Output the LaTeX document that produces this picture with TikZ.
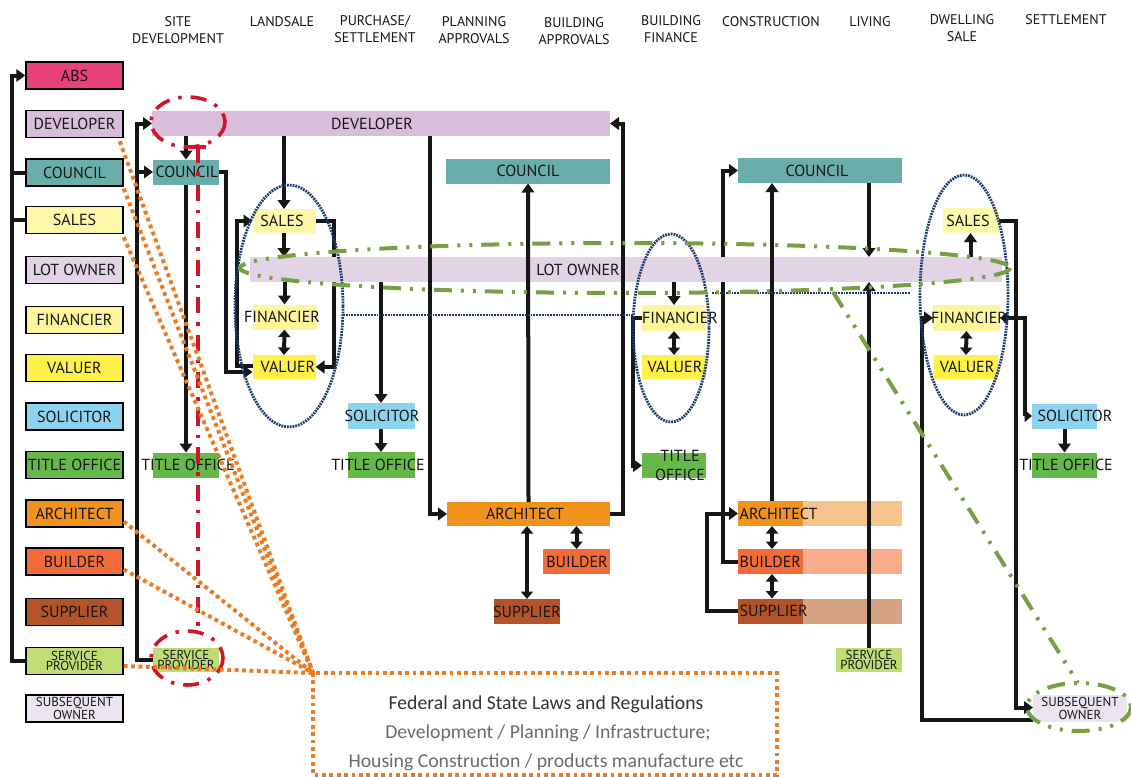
\documentclass[tikz,border=0pt]{standalone}
\usepackage{fontspec}
\setmainfont{PT Sans}
\newfontfamily\lawfont{Carlito}
\usetikzlibrary{arrows.meta,calc}
\pgfdeclarelayer{back}
\pgfsetlayers{back,main}

\definecolor{cAbs}{HTML}{E8407A}
\definecolor{cDev}{HTML}{D9BEDC}
\definecolor{cCouncil}{HTML}{6AAEAB}
\definecolor{cSales}{HTML}{FFF7AA}
\definecolor{cLot}{HTML}{E3D3E6}
\definecolor{cFin}{HTML}{FFF59A}
\definecolor{cVal}{HTML}{FFF04A}
\definecolor{cSol}{HTML}{8DD3F0}
\definecolor{cTitle}{HTML}{66B84A}
\definecolor{cArch}{HTML}{F0921C}
\definecolor{cArchL}{HTML}{F6C48C}
\definecolor{cBuild}{HTML}{F26B38}
\definecolor{cBuildL}{HTML}{F8AC8A}
\definecolor{cSupp}{HTML}{B4532A}
\definecolor{cSuppL}{HTML}{D6A284}
\definecolor{cServ}{HTML}{BFDD72}
\definecolor{cSubs}{HTML}{ECE4F0}
\definecolor{cRing}{HTML}{1D3A6E}
\definecolor{cGreen}{HTML}{77A043}
\definecolor{cRed}{HTML}{D0142A}
\definecolor{cOrange}{HTML}{EB7A22}
\definecolor{cInk}{HTML}{161616}

\begin{document}
\begin{tikzpicture}[x=1pt,y=-1pt,
  txt/.style={font=\fontsize{16}{17}\selectfont, text=cInk, inner sep=0pt},
  small/.style={font=\fontsize{13}{10.8}\selectfont, align=center, text=cInk, inner sep=0pt},
  hd/.style={font=\fontsize{14}{17}\selectfont, align=center, text=cInk, inner sep=0pt},
  lg/.style={draw=black, line width=1.5pt, fill=#1, minimum width=97pt, minimum height=27pt,
             inner sep=0pt, font=\fontsize{16}{17}\selectfont, text=cInk},
  bar/.style={fill=#1, draw=none, inner sep=0pt, outer sep=0pt},
  link/.style={draw=cInk, line width=4pt},
  flow/.style={link, -{Triangle[length=9pt,width=12.5pt]}},
  both/.style={link, {Triangle[length=7.5pt,width=12pt]}-{Triangle[length=7.5pt,width=12pt]}},
  ring/.style={draw=cRing, line width=2.8pt, dash pattern=on 1.8pt off 1pt},
  greendd/.style={draw=cGreen, line width=4pt, dash pattern=on 18pt off 9pt on 3pt off 9pt on 3pt off 9pt},
  reddd/.style={draw=cRed, line width=3.6pt, dash pattern=on 16pt off 9pt on 3.5pt off 9pt},
  law/.style={draw=cOrange, line width=4pt, dash pattern=on 3.8pt off 3.6pt}
]
\useasboundingbox (0,0) rectangle (1131,776);

% ---------- column headings ----------
\node[hd] (hSite)  at (178,30.5) {SITE\\DEVELOPMENT};
\node[hd] (hLand)  at (282,22)   {LANDSALE};
\node[hd] (hPurch) at (375,29.5) {PURCHASE/\\SETTLEMENT};
\node[hd] (hPlan)  at (474,30)   {PLANNING\\APPROVALS};
\node[hd] (hBA)    at (574,31)   {BUILDING\\APPROVALS};
\node[hd] (hBF)    at (671,29)   {BUILDING\\FINANCE};
\node[hd] (hCon)   at (771,22)   {CONSTRUCTION};
\node[hd] (hLiv)   at (870,22)   {LIVING};
\node[hd] (hDS)    at (962,28.5) {DWELLING\\SALE};
\node[hd] (hSet)   at (1066,20)  {SETTLEMENT};

% ---------- legend of parties ----------
\node[lg=cAbs]     (lgAbs)     at (74.5,75.5)  {ABS};
\node[lg=cDev]     (lgDev)     at (74.5,124)   {DEVELOPER};
\node[lg=cCouncil] (lgCouncil) at (74.5,172.5) {COUNCIL};
\node[lg=cSales]   (lgSales)   at (74.5,220)   {SALES};
\node[lg=cLot]     (lgLot)     at (74.5,270)   {LOT OWNER};
\node[lg=cFin]     (lgFin)     at (74.5,320)   {FINANCIER};
\node[lg=cVal]     (lgVal)     at (74.5,368)   {VALUER};
\node[lg=cSol]     (lgSol)     at (74.5,416.5) {SOLICITOR};
\node[lg=cTitle]   (lgTitle)   at (74.5,465)   {TITLE OFFICE};
\node[lg=cArch]    (lgArch)    at (74.5,513.5) {ARCHITECT};
\node[lg=cBuild]   (lgBuild)   at (74.5,561.5) {BUILDER};
\node[lg=cSupp]    (lgSupp)    at (74.5,612)   {SUPPLIER};
\node[lg=cServ, font=\fontsize{13}{10.8}\selectfont, align=center] (lgServ) at (74.5,661) {SERVICE\\PROVIDER};
\node[lg=cSubs, font=\fontsize{13}{10.8}\selectfont, align=center] (lgSubs) at (74.5,708.5) {SUBSEQUENT\\OWNER};

% ---------- bars and boxes ----------
\node[bar=cDev, minimum width=458pt, minimum height=25pt] (devBar) at (381,123.5) {};
\node[txt] (tDev) at (372,124) {DEVELOPER};
\node[bar=cLot, minimum width=752pt, minimum height=25pt] (lotBar) at (626,269.5) {};
\node[txt] (tLot) at (578,270) {LOT OWNER};

% site development
\node[bar=cCouncil, minimum width=66pt, minimum height=25pt] (sdCouncil) at (186,172) {};
\node[txt] (tSdCouncil) at (187,172) {COUNCIL};
\node[bar=cTitle, minimum width=66pt, minimum height=25pt] (sdTitle) at (186,465) {};
\node[txt] (tSdTitle) at (188,465) {TITLE OFFICE};
\node[bar=cServ, minimum width=66pt, minimum height=24pt] (sdServ) at (186,660) {};
\node[small] (tSdServ) at (186,660) {SERVICE\\PROVIDER};

% landsale
\node[bar=cSales, minimum width=63pt, minimum height=24pt] (lsSales) at (284,221) {};
\node[txt] (tLsSales) at (282,221) {SALES};
\node[bar=cFin, minimum width=64pt, minimum height=25pt] (lsFin) at (284.5,317) {};
\node[txt] (tLsFin) at (282,317) {FINANCIER};
\node[bar=cVal, minimum width=63pt, minimum height=24pt] (lsVal) at (284,367) {};
\node[txt] (tLsVal) at (288,367) {VALUER};

% purchase / settlement
\node[bar=cSol, minimum width=67pt, minimum height=26pt] (psSol) at (381,416) {};
\node[txt] (tPsSol) at (382,416) {SOLICITOR};
\node[bar=cTitle, minimum width=67pt, minimum height=26pt] (psTitle) at (381,465) {};
\node[txt] (tPsTitle) at (378,465) {TITLE OFFICE};

% planning / building approvals
\node[bar=cCouncil, minimum width=164pt, minimum height=25pt] (baCouncil) at (528,171) {};
\node[txt] (tBaCouncil) at (528,171) {COUNCIL};
\node[bar=cArch, minimum width=163pt, minimum height=24pt] (baArch) at (528.5,514) {};
\node[txt] (tBaArch) at (525,514) {ARCHITECT};
\node[bar=cBuild, minimum width=67pt, minimum height=25pt] (baBuild) at (576.5,561.5) {};
\node[txt] (tBaBuild) at (577,561.5) {BUILDER};
\node[bar=cSupp, minimum width=66pt, minimum height=25pt] (baSupp) at (527,611.5) {};
\node[txt] (tBaSupp) at (527,611.5) {SUPPLIER};

% building finance
\node[bar=cFin, minimum width=64pt, minimum height=26pt] (bfFin) at (674,318) {};
\node[txt] (tBfFin) at (680,318) {FINANCIER};
\node[bar=cVal, minimum width=64pt, minimum height=24pt] (bfVal) at (674,367) {};
\node[txt] (tBfVal) at (675,367) {VALUER};
\node[bar=cTitle, minimum width=64pt, minimum height=25pt] (bfTitle) at (674,465.5) {};
\node[hd, font=\fontsize{16}{19}\selectfont] (tBfTitle) at (680,465) {TITLE\\OFFICE};

% construction
\foreach \nm/\yy/\dk/\lt/\word in {cnArch/513.5/cArch/cArchL/ARCHITECT,
                                    cnBuild/561.5/cBuild/cBuildL/BUILDER,
                                    cnSupp/611/cSupp/cSuppL/SUPPLIER}{
  \node[bar=\lt, minimum width=164pt, minimum height=25pt,
        path picture={\fill[\dk] (path picture bounding box.north west)
          rectangle ([xshift=65pt]path picture bounding box.south west);}] (\nm) at (820,\yy) {};
  \node[txt, anchor=west] (t\nm) at ([xshift=1.5pt]\nm.west) {\word};
}
\node[bar=cCouncil, minimum width=164pt, minimum height=25pt] (cnCouncil) at (820,170.5) {};
\node[txt] (tCnCouncil) at (817,170.5) {COUNCIL};

% living
\node[bar=cServ, minimum width=66pt, minimum height=24pt] (lvServ) at (869,660) {};
\node[small] (tLvServ) at (869,660) {SERVICE\\PROVIDER};

% dwelling sale
\node[bar=cSales, minimum width=56pt, minimum height=25pt] (dsSales) at (970.5,220.5) {};
\node[txt] (tDsSales) at (968,220.5) {SALES};
\node[bar=cFin, minimum width=67pt, minimum height=26pt] (dsFin) at (966.5,318) {};
\node[txt] (tDsFin) at (969,318) {FINANCIER};
\node[bar=cVal, minimum width=64pt, minimum height=24pt] (dsVal) at (966,367) {};
\node[txt] (tDsVal) at (967,367) {VALUER};

% settlement
\node[bar=cSol, minimum width=65pt, minimum height=25pt] (stSol) at (1064.5,416) {};
\node[txt] (tStSol) at (1075,416) {SOLICITOR};
\node[bar=cTitle, minimum width=65pt, minimum height=25pt] (stTitle) at (1064.5,465) {};
\node[txt] (tStTitle) at (1066,465) {TITLE OFFICE};
\node[bar=cSubs, minimum width=94pt, minimum height=27pt] (dsSubs) at (1080,708.5) {};
\node[small] (tDsSubs) at (1080,708.5) {SUBSEQUENT\\OWNER};

% ---------- helper coordinates ----------
\coordinate (xL)   at (12,0);
\coordinate (xSD)  at (137,0);
\coordinate (xDv)  at (430,0);
\coordinate (xCn)  at (772,0);
\coordinate (xLv)  at (869,0);

% ---------- connectors that run behind the lot owner bar ----------
\begin{pgfonlayer}{back}
  \draw[flow] (lsSales.east) -- ++(18,0) |- (lsVal.east);
  \draw[flow] (cnBuild.west) -- ++(-15,0) |- (cnCouncil.west);
\end{pgfonlayer}

% ---------- connectors ----------
% legend bracket
\draw[flow] (lgServ.west) -| (xL |- lgAbs) -- (lgAbs.west);
\draw[link] (xL |- lgCouncil) -- (lgCouncil.west);
\draw[link] (xL |- lgSales) -- (lgSales.west);

% site development
\draw[flow] (sdServ.west) -| (xSD |- devBar) -- (devBar.west);
\draw[flow] (xSD |- sdCouncil) -- (sdCouncil.west);
\draw[flow] (devBar.south -| sdCouncil) -- (sdCouncil.north);
\draw[flow] (sdCouncil.south) -- (sdTitle.north);
\draw[flow] (sdCouncil.east) -- ++(7,0) |- ([yshift=-5pt]lsVal.west);
\draw[flow] ([yshift=1pt]lsVal.west) -- ++(-16,0) |- (lsSales.west);

% landsale
\draw[flow] (devBar.south -| lsSales) -- (lsSales.north);
\draw[flow] (lsSales.south) -- (lotBar.north -| lsSales);
\draw[flow] (lotBar.south -| lsFin) -- (lsFin.north);
\draw[both] (lsFin.south) -- (lsVal.north);

% purchase / settlement
\draw[flow] (lotBar.south -| psSol) -- (psSol.north);
\draw[flow] (psSol.south) -- (psTitle.north);

% planning and building approvals
\draw[flow] (devBar.south -| xDv) |- (baArch.west);
\draw[flow] (baArch.north) -- (baCouncil.south);
\draw[both] (baArch.south -| baSupp) -- (baSupp.north);
\draw[both] (baArch.south -| baBuild) -- (baBuild.north);
\draw[flow] (baArch.east) -- ++(13,0) |- (devBar.east);

% building finance
\draw[flow] (lotBar.south -| bfFin) -- (bfFin.north);
\draw[both] (bfFin.south) -- (bfVal.north);
\draw[flow] (bfFin.west) -- ++(-9,0) |- (bfTitle.west);

% construction
\draw[flow] (cnSupp.west) -- ++(-31,0) |- (cnArch.west);
\draw[flow] (cnArch.north -| xCn) -- (cnCouncil.south -| xCn);
\draw[both] (cnArch.south -| xCn) -- (cnBuild.north -| xCn);
\draw[both] (cnBuild.south -| xCn) -- (cnSupp.north -| xCn);

% living
\draw[flow] (cnCouncil.south -| xLv) -- (lotBar.north -| xLv);
\draw[flow] (lvServ.north) -- (lotBar.south -| xLv);

% dwelling sale and settlement
\draw[flow] (lotBar.north -| dsSales) -- (dsSales.south);
\draw[both] (dsFin.south) -- (dsVal.north);
\draw[flow] (dsSales.east) -- ++(17,0) |- ([yshift=1pt]dsSubs.west);
\draw[flow] ([yshift=-11pt]dsSubs.west) -- ++(-111,0) |- (dsFin.west);
\draw[both] (dsFin.east) -- ++(25,0) |- (stSol.west);
\draw[flow] (stSol.south) -- (stTitle.north);

% ---------- groupings ----------
\draw[ring] (289,306) ellipse [x radius=54, y radius=121];
\draw[ring] (671,328) ellipse [x radius=38, y radius=94];
\draw[ring] (964,295) ellipse [x radius=44, y radius=120];
\coordinate (finL) at (343,315);
\coordinate (finR) at (633,315);
\draw[ring] (finL) -- (finR);
\coordinate (finL2) at (712,293);
\coordinate (finR2) at (910,293);
\draw[ring] (finL2) -- (finR2);

\draw[greendd] (625,268) ellipse [x radius=385, y radius=25];
\draw[greendd] (1079,707) ellipse [x radius=52, y radius=24];
\coordinate (gA) at (833,292);
\coordinate (gB) at (1078,683);
\draw[greendd] (gA) -- (gB);

\draw[reddd] (188,122) ellipse [x radius=37, y radius=25];
\draw[reddd] (187,658) ellipse [x radius=36, y radius=27];
\coordinate (rTop) at (198,147);
\coordinate (rBot) at (198,632);
\draw[reddd] (rTop) -- (rBot);
\draw[cRed, line width=3.6pt] (190,147) -- (206,147);

% ---------- regulations ----------
\coordinate (lawC) at (313,673);
\draw[law] (lawC) rectangle (777,775);
\draw[law] (lgDev.south east) ++(-4,3) -- (lawC);
\draw[law] (lgCouncil.south east) ++(0,2) -- (lawC);
\draw[law] (lgSales.south east) ++(0,3) -- (lawC);
\draw[law] (lgArch.east) ++(0,8) -- (lawC);
\draw[law] (lgBuild.east) ++(0,8) -- (lawC);
\draw[law] (lgServ.east) ++(0,5) -- (lawC);

\node[font=\lawfont\fontsize{19.7}{22}\selectfont, text=black!80, inner sep=0pt] (law1) at (546,704) {Federal and State Laws and Regulations};
\node[font=\lawfont\fontsize{19.7}{22}\selectfont, text=black!58, inner sep=0pt] (law2) at (548,733) {Development / Planning / Infrastructure;};
\node[font=\lawfont\fontsize{19.7}{22}\selectfont, text=black!58, inner sep=0pt] (law3) at (546,762) {Housing Construction / products manufacture etc};
\end{tikzpicture}
\end{document}
